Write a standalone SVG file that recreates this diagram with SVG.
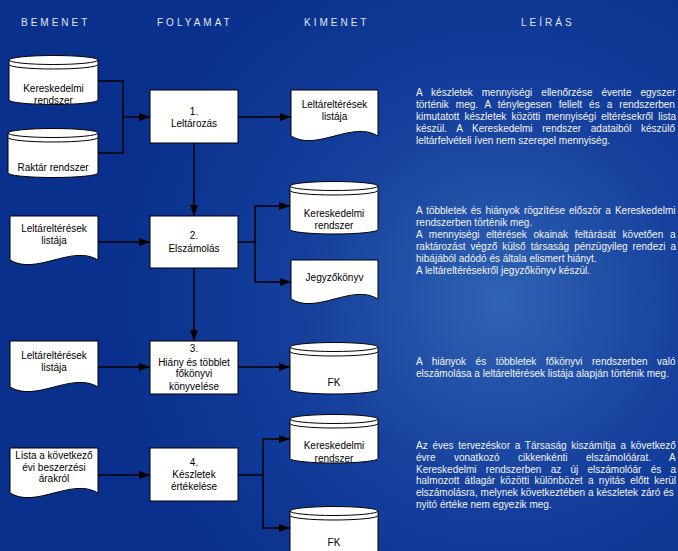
<svg xmlns="http://www.w3.org/2000/svg" width="678" height="551" viewBox="0 0 678 551">
<defs>
<radialGradient id="bg" cx="500" cy="300" r="400" gradientUnits="userSpaceOnUse">
<stop offset="0" stop-color="#2f63b3"/>
<stop offset="0.5" stop-color="#143f9c"/>
<stop offset="1" stop-color="#08308c"/>
</radialGradient>
<marker id="ah" markerUnits="userSpaceOnUse" markerWidth="11" markerHeight="8" refX="11" refY="4" orient="auto"><path d="M0,0 L11,4 L0,8 Z" fill="#000"/></marker>
</defs>
<style>
.hdr{font-family:"Liberation Sans",Arial,sans-serif;font-size:10px;letter-spacing:3px;fill:#e2e6f0}
.n{fill:#fff;stroke:#000;stroke-width:1}
.ln{fill:none;stroke:#000;stroke-width:1}
.t{font-family:"Liberation Sans",Arial,sans-serif;font-size:10px;fill:#000;text-anchor:middle}
.d{font-family:"Liberation Sans",Arial,sans-serif;font-size:10px;fill:#f4f4f4}
.c{fill:none;stroke:#000;stroke-width:1.5}
</style>
<rect width="678" height="551" fill="url(#bg)"/>

<g id="headers">
<text class="hdr" x="21" y="26">BEMENET</text>
<text class="hdr" x="157" y="26">FOLYAMAT</text>
<text class="hdr" x="304" y="26">KIMENET</text>
<text class="hdr" x="521" y="26">LEÍRÁS</text>
</g>

<g id="connectors">
<path class="c" d="M98,81 H123 V153 H98"/>
<path class="c" d="M123,117 H150" marker-end="url(#ah)"/>
<path class="c" d="M238,117 H291" marker-end="url(#ah)"/>
<path class="c" d="M194,143 V216" marker-end="url(#ah)"/>
<path class="c" d="M98,242 H150" marker-end="url(#ah)"/>
<path class="c" d="M238,242 H255 V206 H290" marker-end="url(#ah)"/>
<path class="c" d="M255,242 V282 H291" marker-end="url(#ah)"/>
<path class="c" d="M194,268 V341" marker-end="url(#ah)"/>
<path class="c" d="M98,367 H150" marker-end="url(#ah)"/>
<path class="c" d="M238,367 H290" marker-end="url(#ah)"/>
<path class="c" d="M98,475 H150" marker-end="url(#ah)"/>
<path class="c" d="M238,475 H263 V439 H290" marker-end="url(#ah)"/>
<path class="c" d="M263,475 V528 H290" marker-end="url(#ah)"/>
</g>

<g id="in-kereskedelmi">
<path class="n" d="M9,60 A44.5,4.5 0 0 1 98,60 V100 A44.5,4.5 0 0 1 9,100 Z"/>
<path class="ln" d="M9,60 A44.5,4.5 0 0 0 98,60 M9,64.5 A44.5,4.5 0 0 0 98,64.5"/>
<text class="t" x="53.5" y="92">Kereskedelmi</text>
<text class="t" x="53.5" y="104">rendszer</text>
</g>
<g id="in-raktar">
<path class="n" d="M8,133 A45,4.5 0 0 1 98,133 V173 A45,4.5 0 0 1 8,173 Z"/>
<path class="ln" d="M8,133 A45,4.5 0 0 0 98,133 M8,137.5 A45,4.5 0 0 0 98,137.5"/>
<text class="t" x="53" y="171">Raktár rendszer</text>
</g>

<g id="p1">
<rect class="n" x="150" y="90" width="88" height="53"/>
<text class="t" x="194" y="115">1.</text>
<text class="t" x="194" y="127">Leltározás</text>
</g>
<g id="out1-lista">
<path class="n" d="M291,90 H378 V136 C352,120 317,152 291,136 Z"/>
<text class="t" x="334.5" y="108">Leltáreltérések</text>
<text class="t" x="334.5" y="119.5">listája</text>
</g>

<g id="in2-lista">
<path class="n" d="M10,216 H98 V260 C72,244 36,276 10,260 Z"/>
<text class="t" x="54" y="232">Leltáreltérések</text>
<text class="t" x="54" y="243.5">listája</text>
</g>
<g id="p2">
<rect class="n" x="150" y="216" width="88" height="52"/>
<text class="t" x="194" y="239">2.</text>
<text class="t" x="194" y="252">Elszámolás</text>
</g>
<g id="out2-kereskedelmi">
<path class="n" d="M290,186 A44,4.5 0 0 1 378,186 V229.5 A44,4.5 0 0 1 290,229.5 Z"/>
<path class="ln" d="M290,186 A44,4.5 0 0 0 378,186 M290,190.5 A44,4.5 0 0 0 378,190.5"/>
<text class="t" x="334" y="217">Kereskedelmi</text>
<text class="t" x="334" y="229">rendszer</text>
</g>
<g id="out2-jegyzokonyv">
<path class="n" d="M291,260 H378 V299 C352,283 317,315 291,299 Z"/>
<text class="t" x="334.5" y="280.5">Jegyzőkönyv</text>
</g>

<g id="in3-lista">
<path class="n" d="M10,341 H98 V387 C72,371 36,403 10,387 Z"/>
<text class="t" x="54" y="359">Leltáreltérések</text>
<text class="t" x="54" y="371">listája</text>
</g>
<g id="p3">
<rect class="n" x="150" y="341" width="88" height="53"/>
<text class="t" x="194" y="352">3.</text>
<text class="t" x="194" y="365.5">Hiány és többlet</text>
<text class="t" x="194" y="377">főkönyvi</text>
<text class="t" x="194" y="389.5">könyvelése</text>
</g>
<g id="out3-fk">
<path class="n" d="M290,347 A44,4.5 0 0 1 378,347 V389.5 A44,4.5 0 0 1 290,389.5 Z"/>
<path class="ln" d="M290,347 A44,4.5 0 0 0 378,347 M290,351.5 A44,4.5 0 0 0 378,351.5"/>
<text class="t" x="334" y="386">FK</text>
</g>

<g id="in4-lista">
<path class="n" d="M10,448 H98 V493 C72,477 36,509 10,493 Z"/>
<text class="t" x="54" y="459">Lista a következő</text>
<text class="t" x="54" y="471">évi beszerzési</text>
<text class="t" x="54" y="482">árakról</text>
</g>
<g id="p4">
<rect class="n" x="150" y="448" width="88" height="53"/>
<text class="t" x="194" y="466">4.</text>
<text class="t" x="194" y="478">Készletek</text>
<text class="t" x="194" y="490">értékelése</text>
</g>
<g id="out4-kereskedelmi">
<path class="n" d="M290,419 A44,4.5 0 0 1 378,419 V458.5 A44,4.5 0 0 1 290,458.5 Z"/>
<path class="ln" d="M290,419 A44,4.5 0 0 0 378,419 M290,423.5 A44,4.5 0 0 0 378,423.5"/>
<text class="t" x="334" y="449">Kereskedelmi</text>
<text class="t" x="334" y="462">rendszer</text>
</g>
<g id="out4-fk">
<path class="n" d="M290,511 A44,4.5 0 0 1 378,511 V556 A44,4.5 0 0 1 290,556 Z"/>
<path class="ln" d="M290,511 A44,4.5 0 0 0 378,511 M290,515.5 A44,4.5 0 0 0 378,515.5"/>
<text class="t" x="334" y="546">FK</text>
</g>

<g id="desc1">
<text class="d" x="416" y="96" word-spacing="6.2">A készletek mennyiségi ellenőrzése évente egyszer</text>
<text class="d" x="416" y="108" word-spacing="4.27">történik meg. A ténylegesen fellelt és a rendszerben</text>
<text class="d" x="416" y="120" word-spacing="2.42">kimutatott készletek közötti mennyiségi eltérésekről lista</text>
<text class="d" x="416" y="132" word-spacing="6.88">készül. A Kereskedelmi rendszer adataiból készülő</text>
<text class="d" x="416" y="144">leltárfelvételi íven nem szerepel mennyiség.</text>
</g>
<g id="desc2">
<text class="d" x="416" y="214" word-spacing="1.26">A többletek és hiányok rögzítése először a Kereskedelmi</text>
<text class="d" x="416" y="226">rendszerben történik meg.</text>
<text class="d" x="416" y="238" word-spacing="3.97">A mennyiségi eltérések okainak feltárását követően a</text>
<text class="d" x="416" y="250" word-spacing="2.3">raktározást végző külső társaság pénzügyileg rendezi a</text>
<text class="d" x="416" y="262">hibájából adódó és általa elismert hiányt.</text>
<text class="d" x="416" y="274">A leltáreltérésekről jegyzőkönyv készül.</text>
</g>
<g id="desc3">
<text class="d" x="416" y="365" word-spacing="6.74">A hiányok és többletek főkönyvi rendszerben való</text>
<text class="d" x="416" y="377">elszámolása a leltáreltérések listája alapján történik meg.</text>
</g>
<g id="desc4">
<text class="d" x="416" y="449" word-spacing="1.97">Az éves tervezéskor a Társaság kiszámítja a következő</text>
<text class="d" x="416" y="461" word-spacing="15.7">évre vonatkozó cikkenkénti elszámolóárat. A</text>
<text class="d" x="416" y="472.6" word-spacing="6.47">Kereskedelmi rendszerben az új elszámolóár és a</text>
<text class="d" x="416" y="484.4" word-spacing="2.44">halmozott átlagár közötti különbözet a nyitás előtt kerül</text>
<text class="d" x="416" y="496.2" word-spacing="0.08">elszámolásra, melynek következtében a készletek záró és</text>
<text class="d" x="416" y="508">nyitó értéke nem egyezik meg.</text>
</g>
</svg>
